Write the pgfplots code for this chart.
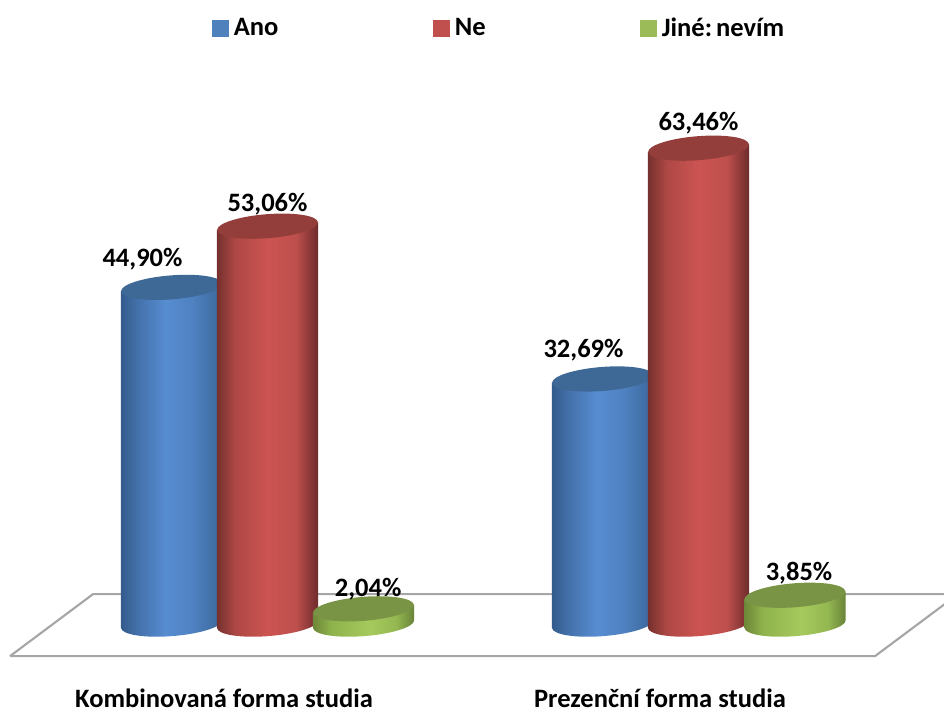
\documentclass[border=0pt]{standalone}
\usepackage{pgfplots}
\usepackage{fontspec}
\setmainfont{Carlito}
\pgfplotsset{compat=1.18}

\definecolor{anoflat}{HTML}{4F81BD}
\definecolor{neflat}{HTML}{C0504D}
\definecolor{jineflat}{HTML}{9BBB59}
\definecolor{anotop}{HTML}{3E6896}
\definecolor{netop}{HTML}{943E3C}
\definecolor{jinetop}{HTML}{7A9446}
\definecolor{floorline}{HTML}{A6A6A6}

% Horizontal cylinder shadings: the stops between 25bp and 75bp span the bar
\pgfdeclarehorizontalshading{cylano}{100bp}{%
  rgb(0bp)=(0.20,0.36,0.55); rgb(25bp)=(0.20,0.36,0.55); rgb(34bp)=(0.27,0.45,0.68);
  rgb(47bp)=(0.34,0.55,0.82); rgb(60bp)=(0.31,0.51,0.76); rgb(75bp)=(0.23,0.40,0.60); rgb(100bp)=(0.23,0.40,0.60)}
\pgfdeclarehorizontalshading{cylne}{100bp}{%
  rgb(0bp)=(0.46,0.19,0.18); rgb(25bp)=(0.46,0.19,0.18); rgb(34bp)=(0.68,0.28,0.27);
  rgb(50bp)=(0.80,0.33,0.32); rgb(64bp)=(0.74,0.31,0.30); rgb(75bp)=(0.42,0.17,0.17); rgb(100bp)=(0.42,0.17,0.17)}
\pgfdeclarehorizontalshading{cyljine}{100bp}{%
  rgb(0bp)=(0.43,0.53,0.22); rgb(25bp)=(0.43,0.53,0.22); rgb(34bp)=(0.56,0.70,0.30);
  rgb(53bp)=(0.65,0.79,0.36); rgb(66bp)=(0.58,0.72,0.32); rgb(75bp)=(0.41,0.51,0.22); rgb(100bp)=(0.41,0.51,0.22)}

% A cylinder standing on the baseline, its top at the plotted point
\newcommand\cylinderbody[2]{%
  \pgfmathsetlengthmacro\cylh{\barvalue*5.625pt}%
  \shade[shading=#1, draw=none]
    (-37.9pt,-2.8pt) -- (-37.9pt,{-\cylh-2.8pt})
    .. controls (-37.39pt,{-\cylh-7.92pt}) and (-20.16pt,{-\cylh-10.61pt}) .. (0.71pt,{-\cylh-8.97pt})
    .. controls (21.58pt,{-\cylh-7.33pt}) and (38.17pt,{-\cylh-1.98pt}) .. (37.9pt,{-\cylh+2.8pt})
    -- (37.9pt,2.8pt) -- cycle;
  \fill[#2, draw=none] (0pt,0pt) ellipse[x radius=37.9pt,y radius=9pt,rotate=4.5];
}
\pgfdeclareplotmark{cylinder ano}{\cylinderbody{cylano}{anotop}}
\pgfdeclareplotmark{cylinder ne}{\cylinderbody{cylne}{netop}}
\pgfdeclareplotmark{cylinder jine}{\cylinderbody{cyljine}{jinetop}}

\pgfplotsset{
  cylinder series/.style={
    scatter, only marks, mark=#1, forget plot,
    scatter src=y,
    visualization depends on={y\as\barvalue},
    visualization depends on={value \thisrow{dx}\as\dxlab},
    visualization depends on={value \thisrow{dy}\as\dylab},
    nodes near coords={\pgfmathprintnumber[fixed,fixed zerofill,precision=2,use comma,assume math mode=true]{\pgfplotspointmeta}\%},
    every node near coord/.append style={
      anchor=center, inner sep=0pt, text=black,
      xshift=\dxlab pt, yshift=\dylab pt,
      font=\fontsize{19.9}{24}\selectfont\bfseries},
  },
  square key/.style={
    legend image code/.code={\fill[#1] (0pt,-6pt) rectangle (12pt,6pt); \path (14.25pt,0pt);},
  },
}

\begin{document}
\begin{tikzpicture}
\begin{axis}[
  scale only axis,
  x=0.75pt, y=5.625pt,
  xmin=0, xmax=944,
  ymin=-11.33, ymax=83.2,
  axis line style={draw=none},
  major tick length=0pt,
  ytick=\empty,
  xtick={224,660},
  xticklabels={Kombinovaná forma studia, Prezenční forma studia},
  xticklabel style={anchor=center, yshift=7.8pt, font=\fontsize{19.9}{24}\selectfont\bfseries},
  legend columns=3,
  legend cell align=left,
  legend style={
    at={(0.2241,0.961)}, anchor=west, draw=none, fill=none,
    inner sep=0pt, outer sep=0pt,
    font=\fontsize{19.9}{24}\selectfont\bfseries,
    /tikz/column 2/.style={column sep=113.75pt},
    /tikz/column 4/.style={column sep=113.5pt},
  },
]
% Floor of the chart
\addplot[floorline, line width=1.6pt, forget plot] coordinates {(10,-4.27) (875,-4.27) (958,4) (93,4) (10,-4.27)};

% Bar values; dx and dy shift each value label, in pt
\addplot[cylinder series=cylinder ano] table[x=x,y=y] {
x      y      dx      dy
171.5  44.90  -21.75  21
602.5  32.69  -14.25  21.75
};
\addplot[cylinder series=cylinder ne] table[x=x,y=y] {
x      y      dx     dy
267.5  53.06  0      16.5
698.5  63.46  0      18.75
};
\addplot[cylinder series=cylinder jine] table[x=x,y=y] {
x      y     dx    dy
363.5  2.04  3.5   15
795    3.85  3     16.5
};

\addlegendimage{square key=anoflat}
\addlegendentry{Ano}
\addlegendimage{square key=neflat}
\addlegendentry{Ne}
\addlegendimage{square key=jineflat}
\addlegendentry{Jiné:\hspace{3pt}nevím}
\end{axis}
\end{tikzpicture}
\end{document}
